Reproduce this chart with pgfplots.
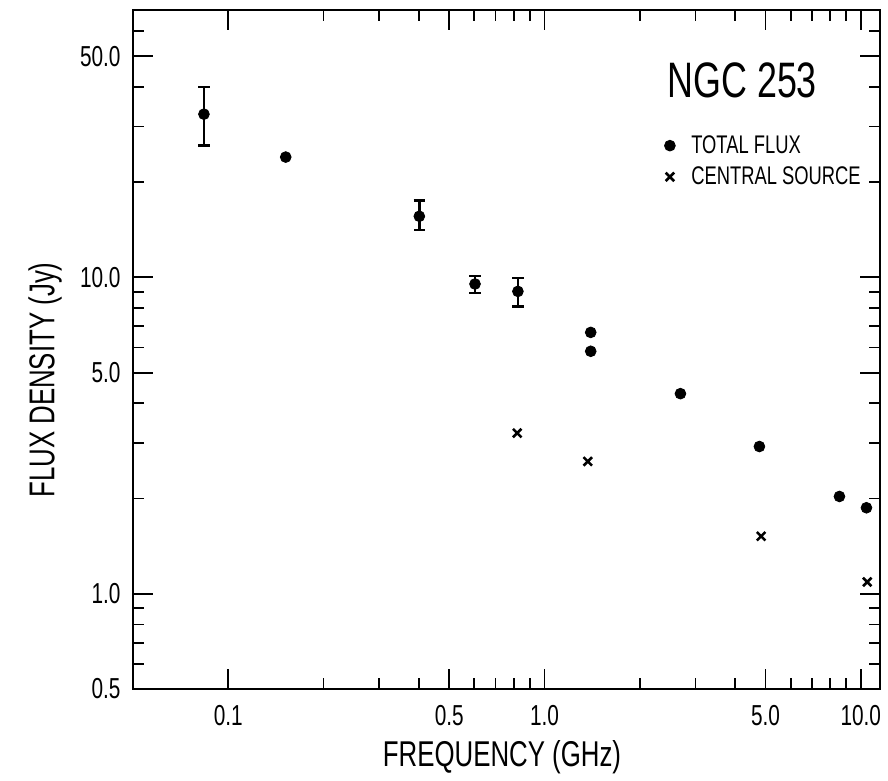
\documentclass[border=0pt]{standalone}
\usepackage{fontspec}
\setmainfont{Liberation Sans}[FakeStretch=0.72]
\usepackage{pgfplots}
\pgfplotsset{compat=1.18}
\begin{document}
\begin{tikzpicture}
\begin{loglogaxis}[
  name=ax,
  scale only axis,
  width=373.5bp, height=339.5bp,
  xmin=0.05, xmax=11.5, ymin=0.5, ymax=70,
  axis line style={line width=1bp},
  tick style={line width=0.9bp, black},
  major tick length=10bp, minor tick length=5.5bp,
  tick align=inside,
  xtick={0.1,0.5,1,5,10},
  xticklabels={0.1,0.5,1.0,5.0,10.0},
  minor xtick={0.2,0.3,0.4,0.6,0.7,0.8,0.9,2,3,4,6,7,8,9},
  ytick={0.5,1,5,10,50},
  yticklabels={0.5,1.0,5.0,10.0,50.0},
  minor ytick={0.6,0.7,0.8,0.9,2,3,4,6,7,8,9,20,30,40,60},
  ticklabel style={font=\fontsize{14.5}{16}\selectfont},
  xticklabel style={yshift=-4.5bp},
  yticklabel style={xshift=-2.7bp},
  xlabel={FREQUENCY (GHz)},
  ylabel={FLUX DENSITY (Jy)},
  label style={font=\fontsize{18}{20}\selectfont},
  xlabel style={at={(rel axis cs:0.494,-0.100)}, anchor=center},
  ylabel style={at={(rel axis cs:-0.1178,0.455)}, anchor=center},
  legend style={draw=none, fill=none, at={(rel axis cs:0.711,0.822)}, anchor=north west,
    font=\fontsize{12.8}{15}\selectfont, inner sep=0pt, row sep=1.2bp, column sep=6bp,
    nodes={inner sep=2bp}},
  legend cell align=left,
  legend image code/.code={\draw[#1] plot coordinates {(0bp,0bp)};},
]
% total flux points with error bars
\addplot[only marks, mark=*, mark size=2.7bp, black, forget plot,
  error bars/.cd, y dir=both, y explicit, error mark=-,
  error bar style={line width=1.2bp, black},
  error mark options={rotate=90, line width=1.2bp, mark size=2.8bp, black}]
  coordinates {
  (0.0838,32.8) += (0,7.2) -= (0,6.7)
  (0.402,15.6) += (0,1.9) -= (0,1.5)
  (0.603,9.53) += (0,0.57) -= (0,0.60)
  (0.824,9.03) += (0,0.92) -= (0,0.93)
  };
% total flux points without error bars
\addplot[only marks, mark=*, mark size=2.7bp, black]
  coordinates {
  (0.152,24.0) (1.40,6.70) (1.40,5.84) (2.69,4.29)
  (4.78,2.92) (8.56,2.03) (10.42,1.87)
  };
\addlegendentry{TOTAL FLUX}
% central source
\addplot[only marks, mark=x, mark size=3bp, black, line width=1.3bp]
  coordinates {
  (0.82,3.22) (1.37,2.62) (4.84,1.52) (10.48,1.09)
  };
\addlegendentry{CENTRAL SOURCE}
\node[anchor=base west, inner sep=0pt, font=\fontsize{25}{28}\selectfont]
  at (rel axis cs:0.7149,0.8714) {NGC 253};
\end{loglogaxis}
\path (ax.south west) +(-66.5bp,-46bp);
\path (ax.north east) +(4bp,5bp);
\end{tikzpicture}
\end{document}
